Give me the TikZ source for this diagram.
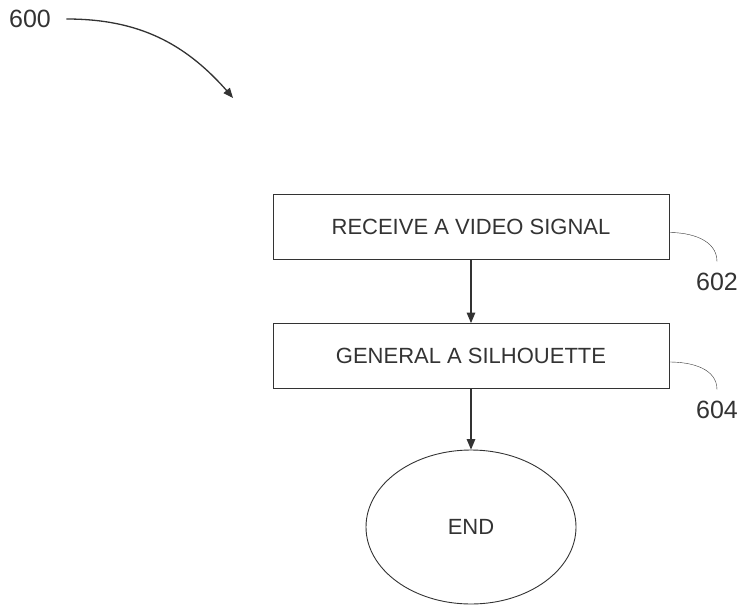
\documentclass[tikz,border=0pt]{standalone}
\usepackage{fontspec}
\setmainfont{Liberation Sans}
\usetikzlibrary{arrows, shapes.geometric, positioning}

\begin{document}
\begin{tikzpicture} [x = 1pt, y = -1pt, font = \fontsize{22}{26}\selectfont, color = black!80,
  stepbox/.style = {draw, minimum width = 396pt, minimum height = 65pt, line width = .9pt},
  endnode/.style = {draw, ellipse, minimum width = 210pt, minimum height = 154pt, line width = .9pt},
  reflabel/.style = {font = \fontsize{25}{30}\selectfont},
  flow/.style = {-triangle 45, line width = 1.4pt}]
\useasboundingbox (0,0) rectangle (743,607);
\node[stepbox] (s1) at (471,226.5) {RECEIVE A VIDEO SIGNAL};
\node[stepbox] (s2) at (471,356) {GENERAL A SILHOUETTE};
\node[endnode] (e) at (471,527) {END};
\node[reflabel] (l600) at (30,19) {600};
\node[reflabel] (l602) at (717,282) {602};
\node[reflabel] (l604) at (717,410) {604};
\coordinate (tip) at (233,98);
\draw[flow] (s1.south) -- (s2.north);
\draw[flow] (s2.south) -- (e.north);
\draw[flow, line width = 1.3pt] ([xshift=12pt]l600.east) to[out=0, in=130] (tip);
\draw ([yshift=-6pt]s1.east) to[out=0, in=90] ([yshift=8pt]l602.north);
\draw ([yshift=-6pt]s2.east) to[out=0, in=90] ([yshift=8pt]l604.north);
\end{tikzpicture}
\end{document}
